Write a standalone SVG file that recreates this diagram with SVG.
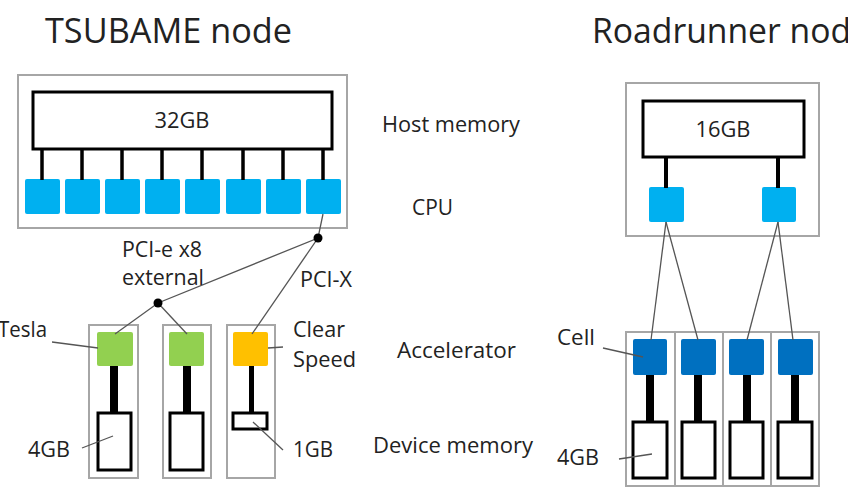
<svg xmlns="http://www.w3.org/2000/svg" width="848" height="495" viewBox="0 0 848 495">
<style>
text{font-family:"Open Sans","Noto Sans","Liberation Sans",sans-serif;fill:#222;}
.title{font-size:35px;}
.lbl{font-size:21px;}
.frame{fill:#fff;stroke:#a6a6a6;stroke-width:2;}
.mem{fill:#fff;stroke:#000;stroke-width:3;}
.cpu{fill:#00b0f0;}
.tesla{fill:#92d050;}
.cs{fill:#ffc000;}
.cell{fill:#0070c0;}
.bus{stroke:#000;stroke-width:3.5;fill:none;}
.bar{fill:#000;}
.wire{stroke:#555;stroke-width:1.3;fill:none;}
.dot{fill:#000;}
</style>
<rect width="848" height="495" fill="#fff"/>

<text class="title" x="45" y="43" textLength="247" lengthAdjust="spacingAndGlyphs">TSUBAME node</text>
<text class="title" x="592" y="43" textLength="278" lengthAdjust="spacingAndGlyphs">Roadrunner node</text>

<g id="tsubame-node"><rect class="frame" x="18" y="75" width="329" height="153"/></g>
<g id="host-memory-32gb">
<rect class="mem" x="33" y="92" width="299" height="57"/>
<text class="lbl" x="182" y="128" text-anchor="middle" textLength="55" lengthAdjust="spacingAndGlyphs">32GB</text>
</g>
<g id="tsubame-cpus">
<rect class="cpu" x="25" y="179" width="35" height="35" rx="2"/>
<rect class="cpu" x="65" y="179" width="35" height="35" rx="2"/>
<rect class="cpu" x="105" y="179" width="35" height="35" rx="2"/>
<rect class="cpu" x="145" y="179" width="35" height="35" rx="2"/>
<rect class="cpu" x="185" y="179" width="35" height="35" rx="2"/>
<rect class="cpu" x="226" y="179" width="35" height="35" rx="2"/>
<rect class="cpu" x="266" y="179" width="35" height="35" rx="2"/>
<rect class="cpu" x="306" y="179" width="35" height="35" rx="2"/>
</g>

<g id="tesla-1">
<rect class="frame" x="89" y="325" width="49" height="153"/>
<rect class="tesla" x="97" y="332" width="36" height="34" rx="2"/>
<rect class="mem" x="98" y="413" width="33" height="57"/>
</g>
<g id="tesla-2">
<rect class="frame" x="163" y="325" width="48" height="153"/>
<rect class="tesla" x="169" y="332" width="35" height="34" rx="2"/>
<rect class="mem" x="170" y="413" width="33" height="57"/>
</g>
<g id="clearspeed">
<rect class="frame" x="227" y="325" width="48" height="153"/>
<rect class="cs" x="233" y="332" width="35" height="34" rx="2"/>
<rect class="mem" x="233" y="413" width="34" height="16"/>
</g>

<g id="roadrunner-node"><rect class="frame" x="626" y="83" width="193" height="153"/></g>
<g id="host-memory-16gb">
<rect class="mem" x="643" y="101" width="161" height="56"/>
<text class="lbl" x="723" y="137" text-anchor="middle" textLength="55" lengthAdjust="spacingAndGlyphs">16GB</text>
</g>
<g id="roadrunner-cpus">
<rect class="cpu" x="649" y="187" width="35" height="35" rx="2"/>
<rect class="cpu" x="762" y="187" width="34" height="35" rx="2"/>
</g>
<g id="cell-blades">
<rect class="frame" x="626" y="332" width="193" height="154"/>
<line class="frame" x1="675" y1="332" x2="675" y2="486"/>
<line class="frame" x1="723" y1="332" x2="723" y2="486"/>
<line class="frame" x1="771" y1="332" x2="771" y2="486"/>
<rect class="cell" x="633" y="339" width="34" height="36" rx="2"/>
<rect class="cell" x="681" y="339" width="35" height="36" rx="2"/>
<rect class="cell" x="729" y="339" width="35" height="36" rx="2"/>
<rect class="cell" x="778" y="339" width="35" height="36" rx="2"/>
<rect class="mem" x="633" y="422" width="34" height="56"/>
<rect class="mem" x="682" y="422" width="33" height="56"/>
<rect class="mem" x="730" y="422" width="33" height="56"/>
<rect class="mem" x="778" y="422" width="34" height="56"/>
</g>

<g id="connectors">
<line class="bus" x1="42" y1="149" x2="42" y2="180"/>
<line class="bus" x1="82" y1="149" x2="82" y2="180"/>
<line class="bus" x1="122" y1="149" x2="122" y2="180"/>
<line class="bus" x1="162" y1="149" x2="162" y2="180"/>
<line class="bus" x1="202" y1="149" x2="202" y2="180"/>
<line class="bus" x1="243" y1="149" x2="243" y2="180"/>
<line class="bus" x1="283" y1="149" x2="283" y2="180"/>
<line class="bus" x1="323" y1="149" x2="323" y2="180"/>
<line class="bus" x1="666" y1="157" x2="666" y2="188" style="stroke-width:4"/>
<line class="bus" x1="778" y1="157" x2="778" y2="188" style="stroke-width:4"/>
<rect class="bar" x="110" y="366" width="8" height="47"/>
<rect class="bar" x="183" y="366" width="8" height="47"/>
<rect class="bar" x="249" y="366" width="5" height="47"/>
<rect class="bar" x="646" y="375" width="8" height="47"/>
<rect class="bar" x="694" y="375" width="8" height="47"/>
<rect class="bar" x="743" y="375" width="8" height="47"/>
<rect class="bar" x="791" y="375" width="8" height="47"/>
<polyline class="wire" points="323,214 318,238 158,303 115,334"/>
<line class="wire" x1="158" y1="303" x2="187" y2="334"/>
<line class="wire" x1="318" y1="238" x2="252" y2="334"/>
<circle class="dot" cx="318" cy="238" r="4.5"/>
<circle class="dot" cx="158" cy="303" r="4.5"/>
<line class="wire" x1="666" y1="222" x2="651" y2="340"/>
<line class="wire" x1="666" y1="222" x2="698" y2="340"/>
<line class="wire" x1="778" y1="222" x2="747" y2="340"/>
<line class="wire" x1="778" y1="222" x2="793" y2="340"/>
<line class="wire" x1="52" y1="342" x2="98" y2="348"/>
<line class="wire" x1="268" y1="348" x2="283" y2="347"/>
<line class="wire" x1="82" y1="448" x2="113" y2="436"/>
<line class="wire" x1="253" y1="422" x2="283" y2="450"/>
<line class="wire" x1="603" y1="348" x2="643" y2="357"/>
<line class="wire" x1="619" y1="459" x2="652" y2="454"/>
</g>

<g id="labels">
<text class="lbl" x="382" y="132" textLength="138" lengthAdjust="spacingAndGlyphs">Host memory</text>
<text class="lbl" x="412" y="215" textLength="41" lengthAdjust="spacingAndGlyphs">CPU</text>
<text class="lbl" x="397" y="358" textLength="119" lengthAdjust="spacingAndGlyphs">Accelerator</text>
<text class="lbl" x="373" y="453" textLength="160" lengthAdjust="spacingAndGlyphs">Device memory</text>
<text class="lbl" x="557" y="345" textLength="38" lengthAdjust="spacingAndGlyphs">Cell</text>
<text class="lbl" x="557" y="465" textLength="42" lengthAdjust="spacingAndGlyphs">4GB</text>
<text class="lbl" x="-2" y="337" textLength="49" lengthAdjust="spacingAndGlyphs">Tesla</text>
<text class="lbl" x="122" y="257" textLength="80" lengthAdjust="spacingAndGlyphs">PCI-e x8</text>
<text class="lbl" x="122" y="285" textLength="82" lengthAdjust="spacingAndGlyphs">external</text>
<text class="lbl" x="300" y="287" textLength="52" lengthAdjust="spacingAndGlyphs">PCI-X</text>
<text class="lbl" x="293" y="337" textLength="52" lengthAdjust="spacingAndGlyphs">Clear</text>
<text class="lbl" x="293" y="367" textLength="63" lengthAdjust="spacingAndGlyphs">Speed</text>
<text class="lbl" x="28" y="457" textLength="42" lengthAdjust="spacingAndGlyphs">4GB</text>
<text class="lbl" x="293" y="457" textLength="40" lengthAdjust="spacingAndGlyphs">1GB</text>
</g>
</svg>
